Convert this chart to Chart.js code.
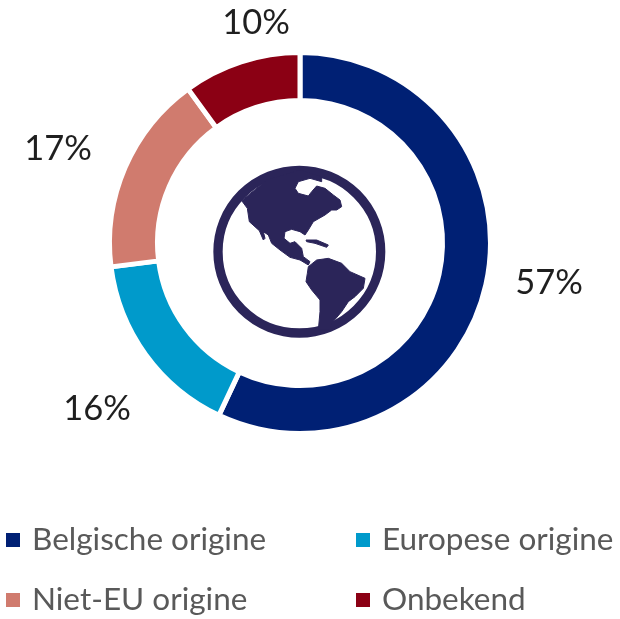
<!DOCTYPE html>
<html><head><meta charset="utf-8">
<style>html,body{margin:0;padding:0;background:#fff}#w{width:620px;height:619px;position:relative}</style>
<script src="https://cdn.jsdelivr.net/npm/chart.js@4/dist/chart.umd.js"></script>
</head><body><div id="w"><canvas id="c" width="620" height="619"></canvas></div>
<script>
const categories = ['Belgische origine','Europese origine','Niet-EU origine','Onbekend'];
const values = [57,16,17,10];
const colors = ['#002074','#009ACB','#D07B6E','#8B0014'];
const tickLabels = ['57%','16%','17%','10%'];

const labelAnchors = [[549,283],[97,409],[58,149],[256,23]];
const legendCells = [[6,32,540],[356,382,540],[6,32,600],[356,382,600]];

const northAmerica = [[125,122],[142,145],[148,185],[178,212],[190,240],[195,235],[190,215],[205,225],[215,250],[240,270],[270,292],[300,300],[325,315],[330,305],[310,290],[305,265],[285,245],[270,250],[252,235],[255,215],[275,208],[300,215],[315,225],[325,210],[340,185],[375,165],[395,150],[410,150],[425,140],[420,120],[400,105],[375,85],[350,78],[335,95],[325,108],[295,100],[285,85],[295,65],[330,55],[365,65],[365,50],[300,30],[200,60]];
const cuba = [[318,240],[350,240],[385,255],[380,262],[345,250],[320,245]];
const southAmerica = [[325,320],[350,300],[385,295],[425,310],[450,335],[495,355],[490,385],[465,410],[445,425],[425,455],[395,490],[388,510],[355,510],[360,455],[360,420],[335,390],[318,365],[322,340]];

const overlay = {
  id:'overlay',
  afterDraw(chart){
    const g = chart.ctx;
    g.save();
    g.textBaseline='middle';
    g.font='34.5px Lato';
    g.fillStyle='#1f1f1f';
    g.textAlign='center';
    tickLabels.forEach((t,i)=>g.fillText(t,labelAnchors[i][0],labelAnchors[i][1]));
    g.textAlign='left';
    g.font='31.5px Lato';
    categories.forEach((t,i)=>{
      const [sx,tx,y]=legendCells[i];
      g.fillStyle=colors[i];
      g.fillRect(sx,y-7,14,14);
      g.fillStyle='#595959';
      g.fillText(t,tx,y);
    });
    // globe icon
    g.translate(200,160); g.scale(1/3,1/3);
    g.strokeStyle='#2B2559'; g.fillStyle='#2B2559';
    g.lineWidth=28;
    g.beginPath(); g.arc(298,275,244,0,Math.PI*2); g.stroke();
    g.lineWidth=3; g.lineJoin='round';
    [northAmerica,cuba,southAmerica].forEach(poly=>{
      g.beginPath();
      poly.forEach((p,i)=>i?g.lineTo(p[0],p[1]):g.moveTo(p[0],p[1]));
      g.closePath(); g.fill(); g.stroke();
    });
    g.restore();
  }
};

new Chart(document.getElementById('c'),{
  type:'doughnut',
  data:{labels:categories,datasets:[{data:values,backgroundColor:colors,borderColor:'#ffffff',borderWidth:5,borderJoinStyle:'bevel',hoverOffset:0}]},
  options:{
    responsive:false,animation:false,cutout:'74.8%',
    layout:{padding:{left:107,right:127,top:50,bottom:183}},
    plugins:{legend:{display:false},tooltip:{enabled:false}}
  },
  plugins:[overlay]
});
</script></body></html>
